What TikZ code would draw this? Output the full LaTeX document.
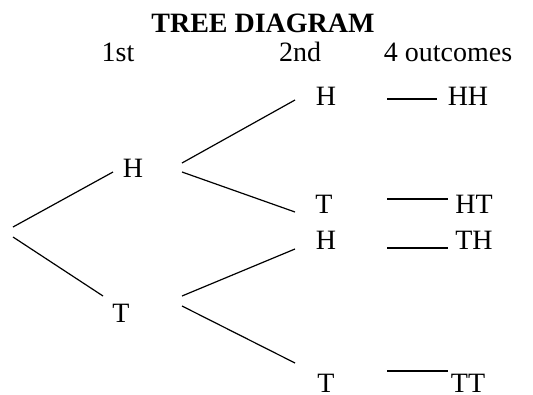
\documentclass[tikz,border=0pt]{standalone}
\usepackage{fontspec}
\setmainfont{Liberation Serif}
\begin{document}
\begin{tikzpicture}[x=1pt,y=-1pt,
  lbl/.style={inner sep=0pt,anchor=base,font=\fontsize{28}{28}\selectfont},
  ttl/.style={lbl,font=\fontsize{28}{28}\selectfont\bfseries},
  branch/.style={line width=1.2pt},
  link/.style={line width=1.2pt}]
\useasboundingbox (0,0) rectangle (533,394);

% headings
\node[ttl] (title) at (263,32) {TREE DIAGRAM};
\node[lbl] (first) at (118,61) {1st};
\node[lbl] (second) at (300,61) {2nd};
\node[lbl] (outc) at (448,61) {4 outcomes};

% first toss
\node[lbl] (h1) at (133,177) {H};
\node[lbl] (t1) at (121,322) {T};

% second toss
\node[lbl] (hh2) at (326,105) {H};
\node[lbl] (ht2) at (324,213) {T};
\node[lbl] (th2) at (326,249) {H};
\node[lbl] (tt2) at (326,392) {T};

% outcomes
\node[lbl] (hh) at (468,105) {HH};
\node[lbl] (ht) at (474,213) {HT};
\node[lbl] (th) at (474,249) {TH};
\node[lbl] (tt) at (468,392) {TT};

% branch end points
\coordinate (rootA) at (13,227);
\coordinate (rootB) at (13,237);
\coordinate (h1in) at (113,172);
\coordinate (t1in) at (103,296);
\coordinate (h1outA) at (182,163);
\coordinate (h1outB) at (182,172);
\coordinate (t1outA) at (182,296);
\coordinate (t1outB) at (182,306);
\coordinate (hh2in) at (295,100);
\coordinate (ht2in) at (295,212);
\coordinate (th2in) at (295,249);
\coordinate (tt2in) at (295,363);

\draw[branch] (rootA) -- (h1in);
\draw[branch] (rootB) -- (t1in);
\draw[branch] (h1outA) -- (hh2in);
\draw[branch] (h1outB) -- (ht2in);
\draw[branch] (t1outA) -- (th2in);
\draw[branch] (t1outB) -- (tt2in);

% dashes joining second toss to outcome
\coordinate (dHHa) at (387,99);  \coordinate (dHHb) at (437,99);
\coordinate (dHTa) at (387,199); \coordinate (dHTb) at (448,199);
\coordinate (dTHa) at (387,248); \coordinate (dTHb) at (448,248);
\coordinate (dTTa) at (387,371); \coordinate (dTTb) at (448,371);
\draw[link] (dHHa) -- (dHHb);
\draw[link] (dHTa) -- (dHTb);
\draw[link] (dTHa) -- (dTHb);
\draw[link] (dTTa) -- (dTTb);
\end{tikzpicture}
\end{document}
